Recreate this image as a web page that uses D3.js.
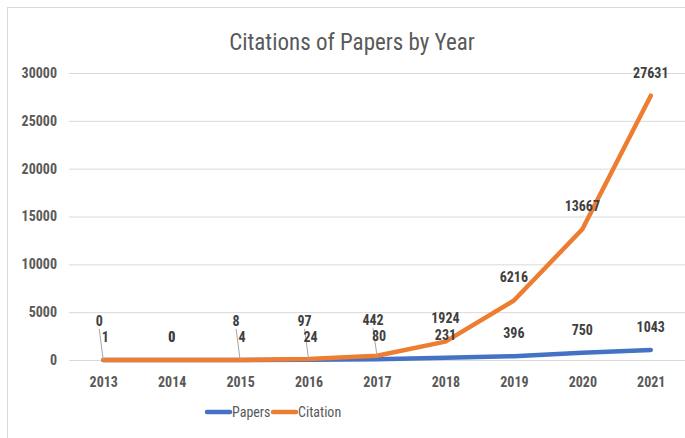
<!DOCTYPE html>
<html>
<head>
<meta charset="utf-8">
<script src="https://cdn.jsdelivr.net/npm/d3@7"></script>
<style>
    body { margin: 0; background: #fff; }
    text { font-family: "Liberation Sans Narrow", "Roboto Condensed", "Liberation Sans", sans-serif; }
</style>
</head>
<body>
<div id="chart"></div>
<script>
// data
var years = ["2013", "2014", "2015", "2016", "2017", "2018", "2019", "2020", "2021"];
var papers = [1, 0, 4, 24, 80, 231, 396, 750, 1043];
var citations = [0, 0, 8, 97, 442, 1924, 6216, 13667, 27631];
var yTicks = [0, 5000, 10000, 15000, 20000, 25000, 30000];
var seriesNames = ["Papers", "Citation"];
var colors = ["#4472C4", "#ED7D31"];

var width = 685, height = 438;
var margin = {top: 73, right: 0, bottom: 78, left: 69};

var svg = d3.select("#chart").append("svg")
    .attr("width", width)
    .attr("height", height);

// chart frame
svg.append("rect")
    .attr("x", 7.5)
    .attr("y", 7.5)
    .attr("width", width)
    .attr("height", height)
    .attr("fill", "#fff")
    .attr("stroke", "#d9d9d9");

var x = d3.scalePoint()
    .domain(years)
    .range([margin.left, width - margin.right])
    .padding(0.5);

var y = d3.scaleLinear()
    .domain([0, 30000])
    .range([height - margin.bottom, margin.top]);

// title
svg.append("text")
    .attr("x", 352)
    .attr("y", 50)
    .attr("text-anchor", "middle")
    .attr("fill", "#595959")
    .style("font-size", "23px")
    .text("Citations of Papers by Year");

// gridlines + y labels
var yAxis = d3.axisLeft(y)
    .tickValues(yTicks)
    .tickSize(-(width - margin.left))
    .tickPadding(12)
    .tickFormat(d3.format("d"));

var gY = svg.append("g")
    .attr("transform", "translate(" + margin.left + ",0)")
    .call(yAxis);
gY.select(".domain").remove();
gY.selectAll(".tick line").attr("stroke", "#d9d9d9");
gY.selectAll(".tick text")
    .attr("fill", "#595959")
    .style("font-size", "14px")
    .style("font-weight", "bold");

// x labels
var xAxis = d3.axisBottom(x).tickSize(0).tickPadding(17);
var gX = svg.append("g")
    .attr("transform", "translate(0," + y(0) + ")")
    .call(xAxis);
gX.select(".domain").remove();
gX.selectAll(".tick text")
    .attr("fill", "#595959")
    .style("font-size", "14px")
    .style("font-weight", "bold");

// lines
var series = [papers, citations];
var line = d3.line()
    .x(function(d, i) { return x(years[i]); })
    .y(function(d) { return y(d); });

svg.selectAll(".series")
    .data(series)
    .enter()
    .append("path")
    .attr("class", "series")
    .attr("fill", "none")
    .attr("stroke", function(d, i) { return colors[i]; })
    .attr("stroke-width", 4.5)
    .attr("stroke-linejoin", "round")
    .attr("stroke-linecap", "round")
    .attr("d", function(d) { return line(d); });

// data labels: above the point, citation label pushed up when it would sit on the papers label
var labels = [];
years.forEach(function(yr, i) {
    var px = x(yr);
    var pY = y(papers[i]) - 23;
    var cY = y(citations[i]) - 23;
    var moved = papers[i] !== citations[i] && Math.abs(pY - cY) < 16;
    if (moved) cY = pY - 16;
    labels.push({x: px + (moved ? 2 : 0), y: pY, text: papers[i]});
    labels.push({x: px - (moved ? 4 : 0), y: cY, text: citations[i], leader: moved, py: y(citations[i])});
});

svg.selectAll(".leader")
    .data(labels.filter(function(d) { return d.leader; }))
    .enter()
    .append("line")
    .attr("class", "leader")
    .attr("x1", function(d) { return d.x; })
    .attr("y1", function(d) { return d.y + 8; })
    .attr("x2", function(d) { return d.x + 4; })
    .attr("y2", function(d) { return d.py; })
    .attr("stroke", "#a6a6a6")
    .attr("stroke-width", 1);

svg.selectAll(".dlabel")
    .data(labels)
    .enter()
    .append("text")
    .attr("class", "dlabel")
    .attr("x", function(d) { return d.x; })
    .attr("y", function(d) { return d.y; })
    .attr("dy", "0.35em")
    .attr("text-anchor", "middle")
    .attr("fill", "#404040")
    .style("font-size", "14px")
    .style("font-weight", "bold")
    .text(function(d) { return d.text; });

// legend
var legend = svg.append("g")
    .attr("transform", "translate(207,412)");

var item = legend.selectAll(".item")
    .data(seriesNames)
    .enter()
    .append("g")
    .attr("class", "item")
    .attr("transform", function(d, i) { return "translate(" + (i * 66) + ",0)"; });

item.append("line")
    .attr("x1", 0)
    .attr("x2", 23)
    .attr("stroke", function(d, i) { return colors[i]; })
    .attr("stroke-width", 4.5)
    .attr("stroke-linecap", "round");

item.append("text")
    .attr("x", 25)
    .attr("dy", "0.35em")
    .attr("fill", "#595959")
    .style("font-size", "14px")
    .text(function(d) { return d; });
</script>
</body>
</html>
